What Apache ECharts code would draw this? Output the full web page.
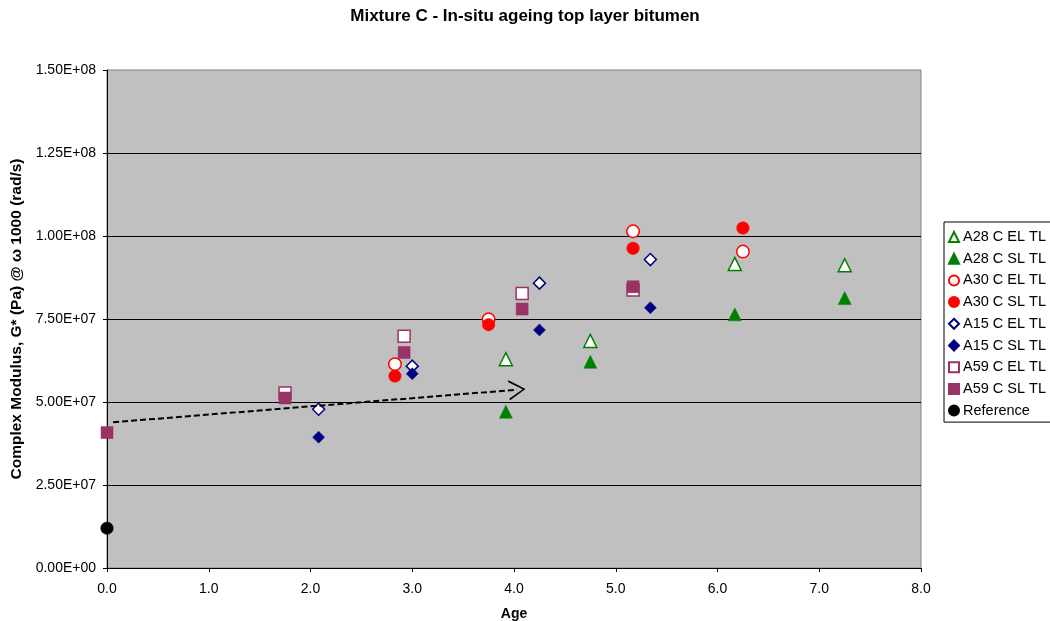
<!DOCTYPE html>
<html>
<head>
<meta charset="utf-8">
<script src="https://cdn.jsdelivr.net/npm/echarts@6/dist/echarts.min.js"></script>
<style>
html,body{margin:0;padding:0;background:#fff;overflow:hidden;}
#chart{width:1050px;height:621px;}
</style>
</head>
<body>
<div id="chart"></div>
<script>
// ---- data ----
const seriesNames = ['A28 C EL TL','A28 C SL TL','A30 C EL TL','A30 C SL TL','A15 C EL TL','A15 C SL TL','A59 C EL TL','A59 C SL TL','Reference'];
const a28EL = [[3.92, 6.29e7],[4.75, 6.84e7],[6.17, 9.16e7],[7.25, 9.12e7]];
const a28SL = [[3.92, 4.71e7],[4.75, 6.21e7],[6.17, 7.64e7],[7.25, 8.13e7]];
const a30EL = [[2.83, 6.14e7],[3.75, 7.49e7],[5.17, 10.14e7],[6.25, 9.53e7]];
const a30SL = [[2.83, 5.78e7],[3.75, 7.33e7],[5.17, 9.63e7],[6.25, 10.24e7]];
const a15EL = [[2.08, 4.78e7],[3.00, 6.08e7],[4.25, 8.58e7],[5.34, 9.29e7]];
const a15SL = [[2.08, 3.94e7],[3.00, 5.85e7],[4.25, 7.17e7],[5.34, 7.84e7]];
const a59EL = [[1.75, 5.27e7],[2.92, 6.98e7],[4.08, 8.27e7],[5.17, 8.37e7]];
const a59SL = [[0.00, 4.08e7],[1.75, 5.12e7],[2.92, 6.49e7],[4.08, 7.80e7],[5.17, 8.47e7]];
const reference = [[0.00, 1.2e7]];
const trendArrow = [[0.06, 4.39e7],[4.03, 5.37e7]];
const xTicks = [0,1,2,3,4,5,6,7,8];
const yTicks = [0, 2.5e7, 5e7, 7.5e7, 1e8, 1.25e8, 1.5e8];

const FONT = 'Arial, "Liberation Sans", sans-serif';
function sci(v){
  if (v === 0) return '0.00E+00';
  const e = Math.floor(Math.log10(v));
  const m = v / Math.pow(10, e);
  return m.toFixed(2) + 'E+' + (e < 10 ? '0' + e : '' + e);
}

const styles = [
  {symbol:'triangle', color:'#008000', hollow:true},
  {symbol:'triangle', color:'#008000', hollow:false},
  {symbol:'circle',   color:'#FF0000', hollow:true},
  {symbol:'circle',   color:'#FF0000', hollow:false},
  {symbol:'diamond',  color:'#000080', hollow:true},
  {symbol:'diamond',  color:'#000080', hollow:false},
  {symbol:'rect',     color:'#993366', hollow:true},
  {symbol:'rect',     color:'#993366', hollow:false},
  {symbol:'circle',   color:'#000000', hollow:false}
];
const datasets = [a28EL,a28SL,a30EL,a30SL,a15EL,a15SL,a59EL,a59SL,reference];
const sizes = {triangle:[13,13], circle:12.5, diamond:12, rect:12};

const series = datasets.map((d,i)=>{
  const s = styles[i];
  return {
    name: seriesNames[i],
    type: 'scatter',
    data: d,
    symbol: s.symbol,
    symbolSize: sizes[s.symbol],
    clip: false,
    itemStyle: s.hollow
      ? {color:'#FFFFFF', borderColor:s.color, borderWidth:1.5, opacity:1}
      : {color:s.color, borderColor:s.color, borderWidth:0.5, opacity:1},
    emphasis:{disabled:true}
  };
});

series.push({
  name: 'trend',
  type: 'line',
  data: [],
  silent: true,
  markLine: {
    silent: true,
    symbol: ['none', 'path://M0,20 L10,0 L20,20 L18.4,20.9 L10,3.6 L1.6,20.9 Z'],
    symbolSize: [20, 17],
    label: {show:false},
    lineStyle: {color:'#000', width:2, type:[6,3]},
    data: [[{coord: trendArrow[0]}, {coord: trendArrow[1]}]]
  }
});

const chart = echarts.init(document.getElementById('chart'), null, {renderer:'canvas'});
chart.setOption({
  animation: false,
  backgroundColor: '#FFFFFF',
  textStyle: {fontFamily: FONT},
  title: {
    text: 'Mixture C - In-situ ageing top layer bitumen',
    left: 'center',
    top: 3,
    textStyle: {fontFamily: FONT, fontSize: 17, fontWeight: 'bold', color: '#000'}
  },
  grid: {
    left: 107, right: 129, top: 70, bottom: 53,
    outerBoundsMode: 'none',
    containLabel: false,
    show: true, backgroundColor: '#C0C0C0', borderColor: '#808080', borderWidth: 1
  },
  legend: {
    orient: 'vertical',
    left: 944, top: 222,
    data: seriesNames,
    backgroundColor: '#FFFFFF',
    borderColor: '#000000',
    borderWidth: 1,
    borderRadius: 0,
    padding: [7.5, 10, 4, 4],
    itemWidth: 10,
    itemHeight: 10,
    itemGap: 6.7,
    selectedMode: false,
    textStyle: {fontFamily: FONT, fontSize: 14.5, color: '#000', padding: [0,0,0,-1]}
  },
  xAxis: {
    type: 'value',
    min: 0, max: 8, interval: 1,
    name: 'Age',
    nameLocation: 'middle',
    nameGap: 39,
    nameTextStyle: {fontFamily: FONT, fontSize: 14, fontWeight: 'bold', color: '#000'},
    axisLine: {show: true, onZero: false, lineStyle: {color: '#000', width: 1}},
    axisTick: {show: true, length: 4, lineStyle: {color: '#000'}},
    axisLabel: {fontFamily: FONT, fontSize: 14, color: '#000', margin: 14,
      formatter: v => xTicks.indexOf(v) >= 0 ? v.toFixed(1) : ''},
    splitLine: {show: false}
  },
  yAxis: {
    type: 'value',
    min: 0, max: 1.5e8, interval: 2.5e7,
    name: 'Complex Modulus, G* (Pa) @ ω 1000 (rad/s)',
    nameLocation: 'middle',
    nameGap: 81,
    nameTextStyle: {fontFamily: FONT, fontSize: 15.5, fontWeight: 'bold', color: '#000'},
    axisLine: {show: true, onZero: false, lineStyle: {color: '#000', width: 1}},
    axisTick: {show: true, length: 4, lineStyle: {color: '#000'}},
    axisLabel: {fontFamily: FONT, fontSize: 14, color: '#000', margin: 11,
      formatter: v => yTicks.indexOf(v) >= 0 ? sci(v) : ''},
    splitLine: {show: true, showMaxLine: false, lineStyle: {color: '#000', width: 1}}
  },
  series: series
});
</script>
</body>
</html>
